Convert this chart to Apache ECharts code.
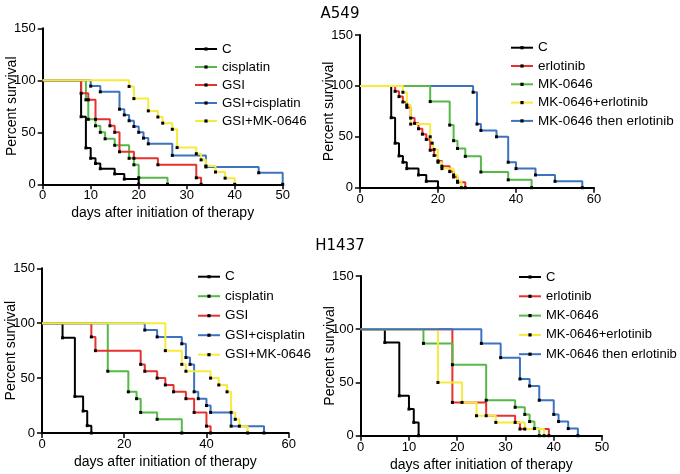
<!DOCTYPE html>
<html><head><meta charset="utf-8">
<script src="https://cdn.jsdelivr.net/npm/echarts@6/dist/echarts.min.js"></script>
<style>html,body{margin:0;padding:0;background:#fff}#c{width:680px;height:474px}</style>
</head><body><div id="c"></div>
<script>
const titles = ['A549', 'H1437'];
const legendA = ['C', 'cisplatin', 'GSI', 'GSI+cisplatin', 'GSI+MK-0646'];
const legendB = ['C', 'erlotinib', 'MK-0646', 'MK-0646+erlotinib', 'MK-0646 then erlotinib'];
const yTicks = [0, 50, 100, 150];
const xTitle = 'days after initiation of therapy';
const yTitle = 'Percent survival';

// A549, left panel: [day, percent survival]
const p1_C = [[0,100],[8,65],[9,35],[10,25],[11,20],[12,15],[15,10],[17,5],[20,0]];
const p1_cis = [[0,100],[9,81.25],[9.5,62.5],[11,56.25],[12,50],[13,43.75],[15,37.5],[18,25],[19,18.75],[20,6.25],[26,0]];
const p1_GSI = [[0,100],[8,87.5],[9.5,81.25],[11,62.5],[14,56.25],[15,50],[16,31.25],[19,25],[24,18.75],[32,6.25],[33,0]];
const p1_GSIcis = [[0,100],[10,94.4],[12,88.9],[16,72.2],[17,66.7],[18,61.1],[19,55.6],[20,50],[21,44.4],[22,38.9],[27,27.8],[34,16.7],[45,11.1],[50,0]];
const p1_GSIMK = [[0,100],[18,94.1],[19,82.4],[22,70.6],[24,64.7],[25,58.8],[27,52.9],[28,35.3],[32,29.4],[33,23.5],[34,17.6],[36,11.8],[38,5.9],[40,0]];

// A549, right panel
const p2_C = [[0,100],[8,68.75],[9,43.75],[10,31.25],[11,25],[12,18.75],[15,12.5],[17,6.25],[20,0]];
const p2_erl = [[0,100],[9,94.7],[10,89.5],[11,84.2],[12,78.9],[13,68.4],[14,63.2],[15,57.9],[16,52.6],[17,47.4],[18,36.8],[19,31.6],[20,26.3],[21,21.1],[23,15.8],[24,10.5],[25,5.3],[27,0]];
const p2_MK = [[0,100],[18,84.6],[23,61.5],[24,46.2],[25,38.5],[27,30.8],[31,15.4],[38,7.7],[44,0]];
const p2_MKerl = [[0,100],[11,93.75],[12,81.25],[13,62.5],[18,50],[18.5,43.75],[19,37.5],[20,25],[21,18.75],[24,12.5],[25,6.25],[26,0]];
const p2_then = [[0,100],[29,93.75],[30,62.5],[31,56.25],[35,50],[38,25],[40,18.75],[45,12.5],[50,6.25],[57,0]];

// H1437, left panel
const p3_C = [[0,100],[5,86.7],[8,33.3],[10,20],[11,6.7],[12,0]];
const p3_cis = [[0,100],[16,56.25],[21,37.5],[23,31.25],[24,18.75],[28,12.5],[34,0]];
const p3_GSI = [[0,100],[12,87.5],[13,75],[24,62.5],[25,56.25],[28,50],[30,43.75],[32,37.5],[35,31.25],[37,18.75],[40,6.25],[41,0]];
const p3_GSIcis = [[0,100],[25,93.75],[28,87.5],[34,81.25],[35,68.75],[36,62.5],[37,37.5],[38,31.25],[40,25],[41,18.75],[46,6.25],[54,0]];
const p3_GSIMK = [[0,100],[30,75],[34,62.5],[35,56.25],[41,50],[43,43.75],[45,37.5],[46,18.75],[47,12.5],[48,6.25],[50,0]];

// H1437, right panel
const p4_C = [[0,100],[5,87.5],[8,37.5],[10,25],[11,12.5],[12,0]];
const p4_erl = [[0,100],[19,31.25],[26,18.75],[32,12.5],[33,6.25],[39,0]];
const p4_MK = [[0,100],[13,86.7],[19,66.7],[26,33.3],[32,26.7],[34,20],[35,13.3],[36,6.7],[37,0]];
const p4_MKerl = [[0,100],[16,50],[21,31.25],[24,18.75],[28,12.5],[34,6.25],[38,0]];
const p4_then = [[0,100],[25,86.7],[29,73.3],[33,53.3],[35,46.7],[37,33.3],[40,20],[41,13.3],[43,6.7],[45,0]];

const COL = {black:'#000000', green:'#55b847', red:'#e5322d', blue:'#3d72bf', yellow:'#f6ea3c'};
const FONT = 'Liberation Sans, Arial, Helvetica, sans-serif';

const grids = [
  {left:42.7, top:28.3, width:240, height:156, outerBoundsMode:'none'},
  {left:360, top:35, width:234, height:152.7, outerBoundsMode:'none'},
  {left:42, top:268.3, width:246.7, height:164.7, outerBoundsMode:'none'},
  {left:360.7, top:276, width:241.3, height:159.7, outerBoundsMode:'none'}
];
const xMax = [50, 60, 60, 50];
const xInt = [10, 20, 20, 10];
const xNamed = [true, false, true, true];

function mk(name, data, color, i) {
  return {
    type:'line', name, data, xAxisIndex:i, yAxisIndex:i, step:'end',
    symbol:'rect', symbolSize:(v, p) => p.dataIndex === 0 ? 0 : 3,
    showSymbol:true, itemStyle:{color:'#000'}, lineStyle:{color, width:2},
    silent:true, animation:false, emphasis:{disabled:true}
  };
}

const series = [
  mk('C', p1_C, COL.black, 0), mk('cisplatin', p1_cis, COL.green, 0), mk('GSI', p1_GSI, COL.red, 0),
  mk('GSI+cisplatin', p1_GSIcis, COL.blue, 0), mk('GSI+MK-0646', p1_GSIMK, COL.yellow, 0),
  mk('MK-0646 then erlotinib', p2_then, COL.blue, 1), mk('C', p2_C, COL.black, 1), mk('erlotinib', p2_erl, COL.red, 1),
  mk('MK-0646', p2_MK, COL.green, 1), mk('MK-0646+erlotinib', p2_MKerl, COL.yellow, 1),
  mk('C', p3_C, COL.black, 2), mk('cisplatin', p3_cis, COL.green, 2), mk('GSI', p3_GSI, COL.red, 2),
  mk('GSI+cisplatin', p3_GSIcis, COL.blue, 2), mk('GSI+MK-0646', p3_GSIMK, COL.yellow, 2),
  mk('C', p4_C, COL.black, 3), mk('erlotinib', p4_erl, COL.red, 3), mk('MK-0646', p4_MK, COL.green, 3),
  mk('MK-0646+erlotinib', p4_MKerl, COL.yellow, 3), mk('MK-0646 then erlotinib', p4_then, COL.blue, 3)
];

const axisLine = {show:true, onZero:false, lineStyle:{color:'#000', width:2}};
const axisTick = {show:true, length:5, lineStyle:{color:'#000', width:1.5}};
const labelStyle = {color:'#000', fontSize:13, fontFamily:FONT};

const xAxis = grids.map((g, i) => ({
  type:'value', gridIndex:i, min:0, max:xMax[i], interval:xInt[i],
  axisLine, axisTick, splitLine:{show:false},
  axisLabel:Object.assign({margin:5}, labelStyle),
  name: xNamed[i] ? xTitle : '', nameLocation:'middle', nameGap:22,
  nameTextStyle:{color:'#000', fontSize:14, fontFamily:FONT}
}));
const yAxis = grids.map((g, i) => ({
  type:'value', gridIndex:i, min:yTicks[0], max:yTicks[yTicks.length-1], interval:50,
  axisLine, axisTick, splitLine:{show:false},
  axisLabel:Object.assign({margin:7}, labelStyle),
  name:yTitle, nameLocation:'middle', nameGap:24, nameMoveOverlap:false,
  nameTextStyle:{color:'#000', fontSize:14, fontFamily:FONT}
}));

function legText(size) { return {color:'#000', fontSize:size, lineHeight:14, fontFamily:FONT}; }
const legBase = {orient:'vertical', itemWidth:22, itemHeight:4, selectedMode:false};
const legend = [
  Object.assign({}, legBase, {data:legendA, left:189, top:37, itemGap:4, textStyle:legText(13.3)}),
  Object.assign({}, legBase, {data:legendB, left:505, top:35.7, itemGap:4.3, textStyle:legText(13.5)}),
  Object.assign({}, legBase, {data:legendA, left:192, top:264.7, itemGap:5.5, textStyle:legText(13.5)}),
  Object.assign({}, legBase, {data:legendB, left:513, top:265, itemGap:5.3, textStyle:legText(13)})
];

const title = [
  {text:titles[0], left:'center', top:2, textStyle:{fontSize:15, fontWeight:'normal', color:'#000', fontFamily:'DejaVu Sans, sans-serif'}},
  {text:titles[1], left:'center', top:234, textStyle:{fontSize:15, fontWeight:'normal', color:'#000', fontFamily:'DejaVu Sans, sans-serif'}}
];

const chart = echarts.init(document.getElementById('c'), null, {renderer:'canvas'});
chart.setOption({animation:false, backgroundColor:'#fff', title, legend, grid:grids, xAxis, yAxis, series});
</script></body></html>
